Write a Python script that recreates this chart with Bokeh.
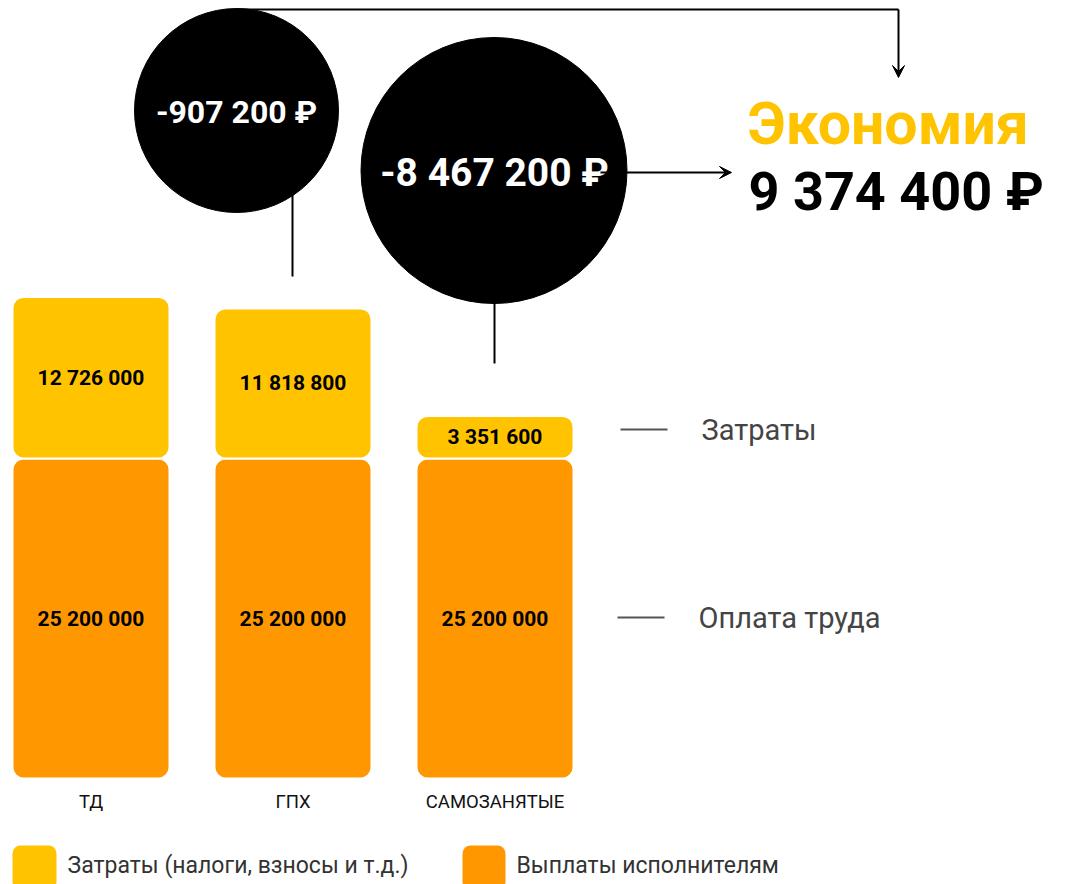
from bokeh.plotting import figure
from bokeh.models import Range1d, Arrow, VeeHead, ColumnDataSource
from bokeh.core.properties import value
from bokeh.embed import file_html
from bokeh.resources import INLINE

# ---------------- data ----------------
categories = ["ТД", "ГПХ", "САМОЗАНЯТЫЕ"]
payouts = [25200000, 25200000, 25200000]          # Выплаты исполнителям
costs = [12726000, 11818800, 3351600]             # Затраты (налоги, взносы и т.д.)
side_labels = ["Затраты", "Оплата труда"]
legend_labels = ["Затраты (налоги, взносы и т.д.)", "Выплаты исполнителям"]
saving_title = "Экономия"


def fmt(v):
    return f"{v:,}".replace(",", " ")


diff_1 = costs[1] - costs[0]
diff_2 = costs[2] - costs[1]
saving = costs[0] - costs[2]

# ---------------- layout ----------------
W, H = 1070, 884
BASE_PX = 778          # pixel row of the zero line
SCALE = 320 / 25200000  # pixels per rouble
FONT = value("Roboto")
YELLOW = "#FFC300"
ORANGE = "#FF9800"

p = figure(width=W, height=H, output_backend="svg", toolbar_location=None,
           x_range=Range1d(0, W),
           y_range=Range1d(-(H - BASE_PX) / SCALE, BASE_PX / SCALE),
           min_border=0, background_fill_color="white", border_fill_color="white")
p.extra_y_ranges = {"px": Range1d(H, 0)}
p.axis.visible = False
p.grid.visible = False
p.outline_line_color = None

xs = [90.5 + i * 202 for i in range(len(categories))]
tops = [a + b for a, b in zip(payouts, costs)]
src = ColumnDataSource(dict(
    x=xs, cat=categories, pay=payouts, cost=costs, top=tops,
    zero=[0] * len(xs),
    pay_mid=[v / 2 for v in payouts],
    cost_mid=[a + b / 2 for a, b in zip(payouts, costs)],
    pay_lbl=[fmt(v) for v in payouts],
    cost_lbl=[fmt(v) for v in costs],
    cat_y=[801] * len(xs),
))

# bars
p.vbar(x="x", bottom="zero", top="pay", width=157, source=src,
       fill_color=ORANGE, line_color="white", line_width=2, border_radius=11)
p.vbar(x="x", bottom="pay", top="top", width=157, source=src,
       fill_color=YELLOW, line_color="white", line_width=2, border_radius=11)

p.text(x="x", y="pay_mid", text="pay_lbl", source=src, text_font=FONT,
       text_font_style="bold", text_font_size="21px", text_color="black",
       text_align="center", text_baseline="middle")
p.text(x="x", y="cost_mid", text="cost_lbl", source=src, text_font=FONT,
       text_font_style="bold", text_font_size="21px", text_color="black",
       text_align="center", text_baseline="middle")
p.text(x="x", y="cat_y", text="cat", source=src, y_range_name="px",
       text_font=FONT, text_font_size="18.5px", text_color="#111111",
       text_align="center", text_baseline="middle")

# connector lines (drawn before circles so circles cover the ends)
p.multi_line(xs=[[236, 898], [292, 292], [494, 494]],
             ys=[[9, 9], [110, 276], [170, 363]],
             y_range_name="px", line_color="black", line_width=2)
p.add_layout(Arrow(x_start=898, y_start=9, x_end=898, y_end=77,
                   y_range_name="px", line_color="black", line_width=2,
                   end=VeeHead(size=12, fill_color="black", line_color="black")))
p.add_layout(Arrow(x_start=600, y_start=172, x_end=731, y_end=172,
                   y_range_name="px", line_color="black", line_width=2,
                   end=VeeHead(size=12, fill_color="black", line_color="black")))

# difference circles
p.circle(x=[236, 493.5], y=[110, 170], radius=[102, 133], y_range_name="px",
         fill_color="black", line_color="black")
p.text(x=[236, 494], y=[111, 172], text=[f"{fmt(diff_1)} ₽", f"{fmt(diff_2)} ₽"],
       y_range_name="px", text_font=FONT, text_font_style="bold",
       text_font_size=["32px", "39px"], text_color="white",
       text_align="center", text_baseline="middle")

# savings
p.text(x=[747], y=[123], text=[saving_title], y_range_name="px", text_font=FONT,
       text_font_style="bold", text_font_size="59px", text_color=YELLOW,
       text_align="left", text_baseline="middle")
p.text(x=[748], y=[191], text=[f"{fmt(saving)} ₽"], y_range_name="px", text_font=FONT,
       text_font_style="bold", text_font_size="54px", text_color="black",
       text_align="left", text_baseline="middle")

# side labels
p.multi_line(xs=[[620, 667], [617, 664]], ys=[[429, 429], [617, 617]],
             y_range_name="px", line_color="#555555", line_width=2)
p.text(x=[701, 698], y=[429, 617], text=side_labels, y_range_name="px",
       text_font=FONT, text_font_size="29px", text_color="#444444",
       text_align="left", text_baseline="middle")

# bottom legend
p.quad(left=[12, 462], right=[56, 505], top=[845, 845], bottom=[889, 889],
       y_range_name="px", fill_color=[YELLOW, ORANGE], line_color=None, border_radius=8)
p.text(x=[67, 516], y=[865, 865], text=legend_labels, y_range_name="px",
       text_font=FONT, text_font_size="23px", text_color="#333333",
       text_align="left", text_baseline="middle")

open("out.html", "w").write(file_html(p, INLINE))
